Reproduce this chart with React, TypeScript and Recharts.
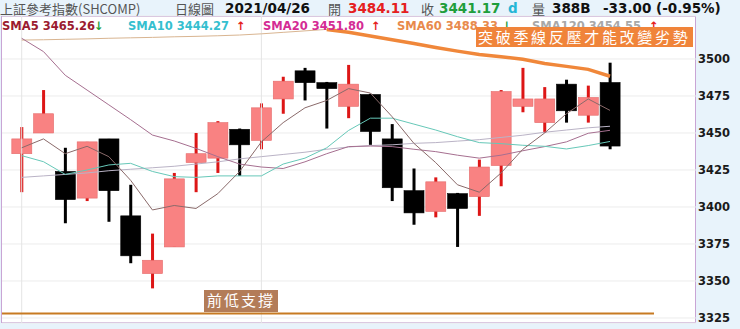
import React from 'react';
import { ComposedChart, Bar, Line, XAxis, YAxis, CartesianGrid, ReferenceLine } from 'recharts';

// 上証 daily candles, 2021/03/17 - 2021/04/26
const dates = [
  '03/17', '03/18', '03/19', '03/22', '03/23', '03/24', '03/25', '03/26', '03/29', '03/30', '03/31',
  '04/01', '04/02', '04/06', '04/07', '04/08', '04/09', '04/12', '04/13', '04/14', '04/15', '04/16',
  '04/19', '04/20', '04/21', '04/22', '04/23', '04/26',
];
const opens = [3436, 3450, 3424, 3406, 3446, 3394, 3355, 3373, 3430, 3433, 3452.5, 3445, 3473, 3492, 3484, 3468, 3476, 3446, 3411, 3397, 3409, 3407, 3428, 3468, 3457, 3483, 3462, 3484.11];
const highs = [3454, 3479, 3440, 3444, 3446, 3415, 3382, 3423, 3450, 3458, 3453, 3470, 3488, 3494, 3484.5, 3496, 3476.5, 3456, 3426, 3420, 3409.5, 3432, 3479, 3494, 3481, 3486, 3482, 3497.5];
const lows = [3410, 3450, 3389, 3404, 3390, 3362, 3345, 3373, 3410, 3423, 3421, 3439, 3463, 3472, 3453, 3460, 3442, 3404, 3388, 3393, 3373, 3394, 3414, 3464, 3450, 3457, 3457, 3439];
const closes = [3446, 3463, 3405, 3444, 3411, 3367, 3364, 3419, 3436, 3457, 3442, 3467, 3485, 3484, 3480, 3483, 3451, 3413, 3396, 3417, 3399, 3427, 3478, 3473, 3473, 3465, 3474, 3441.17];

const sma5 = [3440, 3446, 3436, 3441, 3434, 3418, 3398, 3401, 3399, 3409, 3424, 3444, 3457, 3467, 3472, 3480, 3477, 3461, 3443, 3430, 3415, 3410, 3423, 3439, 3450, 3463, 3473, 3465.26];
const sma10 = [3434.7, 3430.6, 3422, 3425, 3428.4, 3429.5, 3424, 3420.5, 3420, 3421, 3421, 3421, 3429, 3433, 3440, 3451.7, 3460, 3460, 3456, 3452, 3447.5, 3443.5, 3442.8, 3441.7, 3441, 3439.2, 3441.5, 3444.27];
const sma20 = [3514, 3505, 3489, 3479, 3469, 3459, 3448.6, 3444.6, 3439.6, 3434, 3429, 3427, 3426, 3430.5, 3436, 3440.8, 3441.2, 3440.8, 3439, 3437.4, 3435, 3433, 3435, 3438, 3440.8, 3444, 3449.8, 3451.8];
const sma60 = [3512.8, 3513, 3513.3, 3513.6, 3514, 3514.3, 3514.6, 3515, 3515.3, 3515.7, 3516.2, 3517, 3518, 3519, 3520, 3518, 3515.5, 3513, 3510.5, 3507.8, 3505.3, 3503, 3501.5, 3499.8, 3497, 3495, 3493, 3488.33];
const sma120 = [3420, 3421, 3422, 3423, 3424.5, 3425.5, 3426.5, 3427.5, 3429, 3430.5, 3432.5, 3434, 3435.5, 3437, 3439, 3440.5, 3441.5, 3442, 3443, 3443.5, 3444.5, 3445.5, 3447, 3448.5, 3450.5, 3452, 3453.5, 3454.55];

const yTicks = [3325, 3350, 3375, 3400, 3425, 3450, 3475, 3500];
const supportLevel = 3328;
const monthLines = ['03/17', '04/01'];
const markFrom = 14; // hand-drawn highlight over the 季線 (SMA60)

const rows = dates.map((date, i) => ({
  date,
  open: opens[i],
  high: highs[i],
  low: lows[i],
  close: closes[i],
  range: [lows[i], highs[i]],
  sma5: sma5[i],
  sma10: sma10[i],
  sma20: sma20[i],
  sma60: sma60[i],
  sma120: sma120[i],
  mark: i >= markFrom ? sma60[i] : null,
}));

const Candle = (props: any) => {
  const { x, y, width, height, payload } = props;
  const { open, close, high, low } = payload;
  const top = Math.min(y, y + height);
  const h = Math.abs(height);
  const k = high > low ? h / (high - low) : 0;
  const up = close >= open;
  const bodyTop = top + (high - Math.max(open, close)) * k;
  const bodyH = Math.max(1.5, Math.abs(open - close) * k);
  const cx = x + width / 2;
  return (
    <g>
      <rect x={cx - 1.5} y={top} width={3} height={h} fill={up ? '#dd1616' : '#000'} />
      <rect x={x} y={bodyTop} width={width} height={bodyH}
        fill={up ? '#f98282' : '#000'} stroke={up ? '#e56a6a' : '#000'} strokeWidth={0.6} />
    </g>
  );
};

// hand-drawn support line stops short of the right edge
const SupportLine = (p: any) => {
  const left = Math.min(p.x1, p.x2);
  const right = Math.max(p.x1, p.x2);
  return <line x1={left} y1={p.y1} x2={right - 42} y2={p.y2} stroke="#c77a22" strokeWidth={2} />;
};

const num = '"DejaVu Sans", Verdana, sans-serif';
const cjk = '"Noto Sans CJK TC", "Noto Sans CJK SC", sans-serif';

const App: React.FC = () => (
  <div style={{ position: 'absolute', left: 0, top: 0, width: 740, height: 329, background: '#e8f3fb', overflow: 'hidden' }}>
    <div style={{ position: 'absolute', left: 1, top: 16, width: 695, height: 307, background: '#fff', border: '1px solid #c9a5d5', boxSizing: 'border-box' }} />
    <div style={{ position: 'absolute', left: 0, top: 0 }}>
      <ComposedChart width={740} height={329} data={rows} margin={{ top: 16, right: 0, bottom: 6, left: 2 }}>
        <CartesianGrid vertical={false} stroke="#ececec" />
        <XAxis dataKey="date" hide padding={{ left: 8.8, right: 75.1 }} />
        <YAxis orientation="right" width={44} domain={[3321.6, 3529.05]} ticks={yTicks} allowDataOverflow
          axisLine={false} tickLine={false} tickSize={0} tickMargin={2}
          tick={(p: any) => (
            <text x={p.x} y={p.y} dy={4} textAnchor="start" fontFamily={num} fontWeight="bold" fontSize={11.5} fill="#1a1a1a">
              {p.payload.value}
            </text>
          )} />
        {monthLines.map((m) => (
          <ReferenceLine key={m} x={m} stroke="#e4e4e4" />
        ))}
        <Bar dataKey="range" barSize={20} shape={<Candle />} isAnimationActive={false} />
        <Line dataKey="sma120" stroke="#bab3c6" strokeWidth={1} dot={false} isAnimationActive={false} />
        <Line dataKey="sma60" stroke="#d9b591" strokeWidth={1} dot={false} isAnimationActive={false} />
        <Line dataKey="sma20" stroke="#a66f90" strokeWidth={1} dot={false} isAnimationActive={false} />
        <Line dataKey="sma10" stroke="#66c8b8" strokeWidth={1} dot={false} isAnimationActive={false} />
        <Line dataKey="sma5" stroke="#8a6a6a" strokeWidth={1} dot={false} isAnimationActive={false} />
        <Line dataKey="mark" stroke="#f0873a" strokeWidth={3.5} dot={false} isAnimationActive={false} />
        <ReferenceLine y={supportLevel} shape={SupportLine} />
      </ComposedChart>
    </div>
    <svg width={740} height={329} style={{ position: 'absolute', left: 0, top: 0, pointerEvents: 'none' }}>
      <g fontSize={13.5}>
        <text x={0} y={14} fontFamily={cjk} fontSize={13} fill="#555">上証參考指數(SHCOMP)</text>
        <text x={175} y={14} fontFamily={cjk} fontSize={13} fill="#555">日線圖</text>
        <text x={225} y={13} fontFamily={num} fontWeight="bold" fill="#111">2021/04/26</text>
        <text x={328} y={14} fontFamily={cjk} fontSize={13} fill="#555">開</text>
        <text x={348} y={13} fontFamily={num} fontWeight="bold" fill="#e52020">3484.11</text>
        <text x={421} y={14} fontFamily={cjk} fontSize={13} fill="#555">收</text>
        <text x={439} y={13} fontFamily={num} fontWeight="bold" fill="#1f9e3c">3441.17</text>
        <text x={508} y={13} fontFamily={num} fontWeight="bold" fill="#25b6d6">d</text>
        <text x={532} y={14} fontFamily={cjk} fontSize={13} fill="#555">量</text>
        <text x={552} y={13} fontFamily={num} fontWeight="bold" fill="#111">388B</text>
        <text x={603} y={13} fontFamily={num} fontWeight="bold" fill="#111">-33.00 (-0.95%)</text>
      </g>
      <g fontSize={11.5} fontFamily={num} fontWeight="bold">
        <text x={2} y={30} fill="#9b1b30">SMA5 3465.26</text>
        <text x={94} y={30} fill="#1f9e3c">↓</text>
        <text x={128} y={30} fill="#35bfcf">SMA10 3444.27</text>
        <text x={236} y={30} fill="#e52020">↑</text>
        <text x={263} y={30} fill="#d42c94">SMA20 3451.80</text>
        <text x={371} y={30} fill="#e52020">↑</text>
        <text x={397} y={30} fill="#e88a4c">SMA60 3488.33</text>
        <text x={502} y={30} fill="#1f9e3c">↓</text>
        <text x={532} y={30} fill="#a8a8a8">SMA120 3454.55</text>
        <text x={649} y={30} fill="#e52020">↑</text>
      </g>
      <rect x={476} y={27} width={217} height={20} fill="#f0843a" />
      <text x={478} y={43} fontFamily={cjk} fontSize={15} letterSpacing={2.7} fill="#fff">突破季線反壓才能改變劣勢</text>
      <rect x={204} y={290} width={74} height={22} fill="#b37c58" />
      <text x={207} y={306} fontFamily={cjk} fontSize={15} letterSpacing={2} fill="#fff">前低支撐</text>
    </svg>
  </div>
);

export default App;
